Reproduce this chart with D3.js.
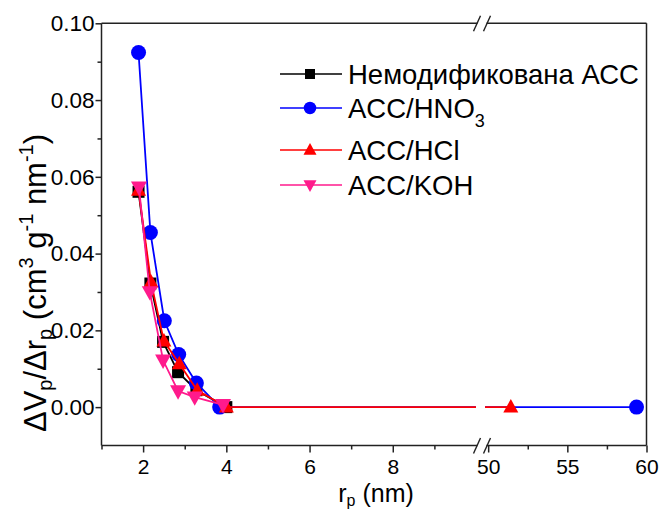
<!DOCTYPE html>
<html><head><meta charset="utf-8">
<script src="https://cdn.jsdelivr.net/npm/d3@7"></script>
<style>
body{margin:0;background:#fff;}
svg{display:block;font-family:Arial,"Liberation Sans",sans-serif;}
</style></head>
<body>
<svg id="c" width="659" height="510"></svg>
<script>
// ---- data ----
const seriesNames = ["Немодификована АСС", "ACC/HNO3", "ACC/HCl", "ACC/KOH"];
const seriesColors = ["#000000", "#0000ff", "#ff0000", "#ff1a8c"];
const seriesSymbols = ["square", "circle", "triUp", "triDown"];
const blackX = [1.89, 2.175, 2.48, 2.84, 3.28, 4.0];
const blackY = [0.0561, 0.0322, 0.0170, 0.0091, 0.0044, 0.0];
const blueX = [1.89, 2.175, 2.51, 2.855, 3.28, 3.84, 59.37];
const blueY = [0.0924, 0.0455, 0.0225, 0.0137, 0.0063, 0.0, 0.0];
const redX = [1.89, 2.19, 2.5, 2.87, 3.3, 4.0, 51.43];
const redY = [0.0565, 0.0326, 0.0172, 0.0113, 0.0044, 0.0, 0.0];
const pinkX = [1.9, 2.16, 2.48, 2.84, 3.24, 3.92];
const pinkY = [0.0573, 0.0300, 0.0122, 0.0042, 0.0026, 0.0006];
const xTicksLeft = [2, 4, 6, 8];
const xMinorLeft = [1, 3, 5, 7, 9];
const xTicksRight = [50, 55, 60];
const xMinorRight = [52.5, 57.5];
const yTicks = [0, 0.02, 0.04, 0.06, 0.08, 0.10];
const yMinor = [0.01, 0.03, 0.05, 0.07, 0.09];

const xsAll = [blackX, blueX, redX, pinkX];
const ysAll = [blackY, blueY, redY, pinkY];

// ---- layout ----
const svg = d3.select("#c");
const L = 101.5, R = 646.5, T = 23.3, B = 445.5;
const breakL = 476, breakR = 485;
const xL = d3.scaleLinear().domain([1, 10]).range([L, breakL]);
const xR = d3.scaleLinear().domain([49.8, 60]).range([breakR, R]);
const y = d3.scaleLinear().domain([-0.01, 0.10]).range([B, T]);
const X = v => v < 30 ? xL(v) : xR(v);
const axisColor = "#222";

// clip paths
const defs = svg.append("defs");
defs.append("clipPath").attr("id", "cl").append("rect").attr("x", L).attr("y", 0).attr("width", breakL - L).attr("height", 510);
defs.append("clipPath").attr("id", "cr").append("rect").attr("x", breakR).attr("y", 0).attr("width", R - breakR).attr("height", 510);

// frame lines
const frame = svg.append("g").attr("stroke", axisColor).attr("stroke-width", 1.5).attr("fill", "none");
frame.append("line").attr("x1", L).attr("x2", L).attr("y1", T).attr("y2", B);
frame.append("line").attr("x1", R).attr("x2", R).attr("y1", T).attr("y2", B);
[T, B].forEach(yy => {
  frame.append("line").attr("x1", L).attr("x2", 477.5).attr("y1", yy).attr("y2", yy);
  frame.append("line").attr("x1", 486.5).attr("x2", R).attr("y1", yy).attr("y2", yy);
  frame.append("line").attr("x1", 473.5).attr("y1", yy + 8).attr("x2", 480.5).attr("y2", yy - 7.5).attr("stroke-width", 1.4);
  frame.append("line").attr("x1", 483.5).attr("y1", yy + 8).attr("x2", 490.5).attr("y2", yy - 7.5).attr("stroke-width", 1.4);
});

// axes
function styleAxis(fs) {
  return g => {
    g.select(".domain").remove();
    g.selectAll(".tick line").attr("stroke", axisColor).attr("stroke-width", 1.5);
    g.selectAll(".tick text").attr("fill", "#000").attr("font-size", fs).attr("font-family", "Arial, 'Liberation Sans', sans-serif");
  };
}
svg.append("g").attr("transform", `translate(0,${B})`)
  .call(d3.axisBottom(xL).tickValues(xTicksLeft).tickFormat(d3.format("d")).tickSize(7).tickPadding(7)).call(styleAxis(21));
svg.append("g").attr("transform", `translate(0,${B})`)
  .call(d3.axisBottom(xL).tickValues(xMinorLeft).tickFormat("").tickSize(4)).call(styleAxis(21));
svg.append("g").attr("transform", `translate(0,${B})`)
  .call(d3.axisBottom(xR).tickValues(xTicksRight).tickFormat(d3.format("d")).tickSize(7).tickPadding(7)).call(styleAxis(21));
svg.append("g").attr("transform", `translate(0,${B})`)
  .call(d3.axisBottom(xR).tickValues(xMinorRight).tickFormat("").tickSize(4)).call(styleAxis(21));
svg.append("g").attr("transform", `translate(${L},0)`)
  .call(d3.axisLeft(y).tickValues(yTicks).tickFormat(d3.format(".2f")).tickSize(6).tickPadding(1)).call(styleAxis(22.5));
svg.append("g").attr("transform", `translate(${L},0)`)
  .call(d3.axisLeft(y).tickValues(yMinor).tickFormat("").tickSize(4)).call(styleAxis(22));

// axis titles
const xt = svg.append("text").attr("x", 376).attr("y", 502).attr("text-anchor", "middle").attr("font-size", 25);
xt.append("tspan").text("r");
xt.append("tspan").attr("font-size", 16).attr("dy", 4).text("p");
xt.append("tspan").attr("dy", -4).text(" (nm)");

const yt = svg.append("text").attr("transform", "translate(46,283) rotate(-90)").attr("text-anchor", "middle").attr("font-size", 31);
yt.append("tspan").text("ΔV");
yt.append("tspan").attr("font-size", 20).attr("dy", 6).text("p");
yt.append("tspan").attr("dy", -6).text("/Δr");
yt.append("tspan").attr("font-size", 20).attr("dy", 6).text("p");
yt.append("tspan").attr("dy", -6).text(" (cm");
yt.append("tspan").attr("font-size", 20).attr("dy", -13).text("3");
yt.append("tspan").attr("dy", 13).text(" g");
yt.append("tspan").attr("font-size", 20).attr("dy", -13).text("-1");
yt.append("tspan").attr("dy", 13).text(" nm");
yt.append("tspan").attr("font-size", 20).attr("dy", -13).text("-1");
yt.append("tspan").attr("dy", 13).text(")");

// symbols
function drawSymbol(g, type, cx, cy, s, color) {
  if (type === "square") {
    g.append("rect").attr("x", cx - s / 2).attr("y", cy - s / 2).attr("width", s).attr("height", s).attr("fill", color);
  } else if (type === "circle") {
    g.append("circle").attr("cx", cx).attr("cy", cy).attr("r", s / 2).attr("fill", color);
  } else if (type === "triUp") {
    const h = s * 0.9;
    g.append("path").attr("d", `M${cx},${cy - h * 0.6}L${cx + s / 2},${cy + h * 0.4}L${cx - s / 2},${cy + h * 0.4}Z`).attr("fill", color);
  } else {
    const h = s * 0.9;
    g.append("path").attr("d", `M${cx},${cy + h * 0.6}L${cx + s / 2},${cy - h * 0.4}L${cx - s / 2},${cy - h * 0.4}Z`).attr("fill", color);
  }
}

// series
const line = d3.line().x(d => X(d[0])).y(d => y(d[1]));
const markerSizes = [12, 15, 15, 16];
xsAll.forEach((xs, i) => {
  const pts = xs.map((v, j) => [v, ysAll[i][j]]);
  const g = svg.append("g");
  ["cl", "cr"].forEach(c => {
    g.append("path").attr("d", line(pts)).attr("fill", "none").attr("stroke", seriesColors[i])
      .attr("stroke-width", 1.8).attr("clip-path", `url(#${c})`);
  });
  pts.forEach(p => drawSymbol(g, seriesSymbols[i], X(p[0]), y(p[1]), markerSizes[i], seriesColors[i]));
});

// legend
const legY = [74, 108, 150, 185];
const legSizes = [10, 12.5, 13, 13];
const leg = svg.append("g");
seriesNames.forEach((n, i) => {
  leg.append("line").attr("x1", 280).attr("x2", 342).attr("y1", legY[i]).attr("y2", legY[i])
    .attr("stroke", seriesColors[i]).attr("stroke-width", 1.6);
  drawSymbol(leg, seriesSymbols[i], 310, legY[i], legSizes[i], seriesColors[i]);
  const t = leg.append("text").attr("x", 348).attr("y", legY[i] + 10).attr("font-size", 27.5);
  if (i === 1) {
    t.append("tspan").text("ACC/HNO");
    t.append("tspan").attr("font-size", 18).attr("dy", 9).text("3");
  } else {
    t.text(n);
  }
});
</script>
</body></html>
